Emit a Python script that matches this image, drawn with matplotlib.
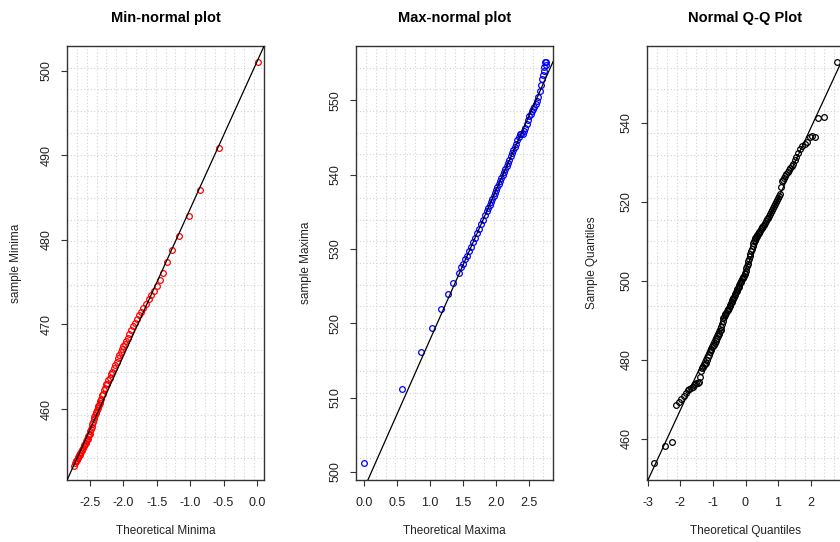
import numpy as np
import matplotlib
matplotlib.use("Agg")
import matplotlib.pyplot as plt

plt.rcParams['font.family'] = ['Liberation Sans', 'DejaVu Sans']
plt.rcParams['axes.unicode_minus'] = False

# --- Min-normal plot (sample minima vs theoretical minima)
min_x = [-2.74, -2.72, -2.71, -2.70, -2.69, -2.68, -2.67, -2.66, -2.65, -2.64,
         -2.63, -2.62, -2.61, -2.60, -2.59, -2.58, -2.57, -2.56, -2.55, -2.54,
         -2.53, -2.52, -2.51, -2.50, -2.49, -2.48, -2.47, -2.46, -2.45, -2.44,
         -2.43, -2.42, -2.41, -2.40, -2.39, -2.38, -2.37, -2.36, -2.35, -2.34,
         -2.33, -2.31, -2.30, -2.28, -2.27, -2.25, -2.24, -2.22, -2.20, -2.18,
         -2.16, -2.14, -2.12, -2.10, -2.08, -2.06, -2.04, -2.02, -2.00, -1.98,
         -1.96, -1.93, -1.91, -1.88, -1.85, -1.82, -1.79, -1.76, -1.73, -1.70,
         -1.66, -1.62, -1.58, -1.54, -1.50, -1.45, -1.40, -1.35, -1.27, -1.16,
         -1.02, -0.85, -0.57, 0.02]
min_y = [453.3, 453.6, 453.8, 453.9, 454.0, 454.2, 454.3, 454.5, 454.6, 454.8,
         454.9, 455.1, 455.2, 455.4, 455.6, 455.7, 455.9, 456.0, 456.2, 456.4,
         456.5, 456.8, 456.9, 457.1, 457.4, 457.6, 457.9, 458.2, 458.5, 458.8,
         459.1, 459.3, 459.5, 459.7, 459.9, 460.1, 460.3, 460.5, 460.7, 460.9,
         461.2, 461.6, 461.8, 462.3, 462.5, 462.9, 463.0, 463.4, 463.7, 464.1,
         464.4, 464.8, 465.2, 465.6, 466.0, 466.4, 466.7, 467.1, 467.4, 467.7,
         468.0, 468.4, 468.9, 469.4, 469.8, 470.2, 470.6, 471.1, 471.5, 471.9,
         472.4, 473.0, 473.5, 474.0, 474.5, 475.3, 476.1, 477.4, 478.8, 480.5,
         482.8, 485.9, 490.9, 501.0]
min_line = (501.1, 17.44)  # intercept, slope

# --- Max-normal plot (sample maxima vs theoretical maxima)
max_x = [0.00, 0.57, 0.86, 1.03, 1.17, 1.27, 1.35, 1.44, 1.47, 1.50,
         1.53, 1.56, 1.59, 1.62, 1.65, 1.68, 1.71, 1.74, 1.77, 1.80,
         1.83, 1.86, 1.88, 1.90, 1.92, 1.94, 1.96, 1.98, 2.00, 2.02,
         2.04, 2.06, 2.08, 2.10, 2.12, 2.14, 2.16, 2.18, 2.20, 2.22,
         2.24, 2.26, 2.28, 2.30, 2.32, 2.34, 2.36, 2.38, 2.40, 2.42,
         2.44, 2.46, 2.48, 2.50, 2.52, 2.54, 2.56, 2.58, 2.60, 2.62,
         2.64, 2.66, 2.68, 2.70, 2.71, 2.72, 2.73, 2.74, 2.75, 2.76]
max_y = [501.2, 511.1, 516.1, 519.4, 521.9, 523.9, 525.4, 526.8, 527.5, 528.0,
         528.6, 529.1, 529.7, 530.3, 530.9, 531.5, 532.1, 532.7, 533.3, 533.9,
         534.5, 535.1, 535.5, 535.9, 536.3, 536.7, 537.1, 537.5, 537.9, 538.3,
         538.7, 539.2, 539.6, 540.0, 540.4, 540.8, 541.2, 541.6, 542.0, 542.5,
         542.9, 543.3, 543.7, 544.1, 544.6, 545.0, 545.4, 545.5, 545.5, 545.9,
         546.3, 546.8, 547.3, 547.9, 548.2, 548.5, 548.8, 549.1, 549.5, 549.9,
         550.4, 551.2, 552.0, 552.9, 553.4, 553.9, 554.5, 555.1, 554.7, 555.2]
max_line = (497.7, 20.1)

# --- Normal Q-Q plot
qq_x = [-2.81, -2.47, -2.26, -2.14, -2.05, -1.97, -1.90, -1.84, -1.78, -1.73,
        -1.68, -1.63, -1.59, -1.55, -1.51, -1.47, -1.44, -1.40, -1.37, -1.34,
        -1.31, -1.28, -1.25, -1.22, -1.19, -1.16, -1.13, -1.10, -1.07, -1.05,
        -1.02, -1.00, -0.97, -0.95, -0.92, -0.90, -0.87, -0.85, -0.83, -0.80,
        -0.78, -0.76, -0.74, -0.72, -0.70, -0.68, -0.66, -0.64, -0.62, -0.60,
        -0.57, -0.55, -0.53, -0.51, -0.49, -0.47, -0.45, -0.43, -0.41, -0.39,
        -0.37, -0.35, -0.33, -0.31, -0.29, -0.27, -0.25, -0.23, -0.21, -0.19,
        -0.17, -0.15, -0.13, -0.11, -0.09, -0.07, -0.05, -0.03, -0.01, 0.01,
        0.03, 0.05, 0.07, 0.09, 0.11, 0.13, 0.15, 0.17, 0.19, 0.22,
        0.24, 0.26, 0.28, 0.30, 0.32, 0.34, 0.36, 0.39, 0.41, 0.43,
        0.45, 0.48, 0.50, 0.52, 0.55, 0.58, 0.61, 0.64, 0.67, 0.70,
        0.73, 0.76, 0.79, 0.82, 0.85, 0.88, 0.91, 0.94, 0.97, 1.00,
        1.03, 1.06, 1.09, 1.12, 1.15, 1.18, 1.22, 1.26, 1.30, 1.34,
        1.38, 1.42, 1.46, 1.51, 1.56, 1.62, 1.68, 1.75, 1.82, 1.90,
        1.98, 2.06, 2.14, 2.24, 2.40, 2.81]
qq_y = [453.8, 458.3, 459.3, 468.6, 469.4, 470.0, 470.8, 471.6, 472.4, 472.6,
        472.8, 473.2, 473.6, 474.0, 474.1, 474.2, 474.3, 475.8, 477.2, 477.9,
        478.3, 478.6, 479.0, 479.3, 480.0, 480.7, 481.3, 481.9, 482.4, 482.8,
        483.2, 483.6, 483.9, 484.4, 484.9, 485.2, 485.5, 486.0, 486.5, 486.9,
        487.3, 487.7, 488.4, 489.2, 489.9, 490.5, 491.0, 491.3, 491.6, 491.9,
        492.4, 492.7, 493.0, 493.2, 493.6, 494.0, 494.4, 494.7, 495.1, 495.4,
        495.7, 496.0, 496.4, 496.8, 497.2, 497.5, 497.9, 498.2, 498.5, 498.9,
        499.4, 499.8, 500.1, 500.4, 500.7, 501.0, 501.3, 501.7, 502.1, 502.6,
        503.2, 503.8, 504.4, 505.0, 505.6, 506.2, 506.9, 507.5, 508.2, 508.9,
        509.5, 510.0, 510.4, 510.8, 511.1, 511.4, 511.7, 512.0, 512.2, 512.4,
        512.7, 513.1, 513.4, 513.6, 513.9, 514.2, 514.6, 515.1, 515.6, 516.0,
        516.4, 516.9, 517.4, 518.0, 518.5, 518.9, 519.4, 520.0, 520.6, 521.1,
        521.5, 522.0, 523.8, 525.2, 525.6, 526.0, 526.5, 527.2, 527.6, 528.1,
        528.6, 529.1, 529.7, 530.6, 531.4, 532.3, 533.3, 534.2, 534.7, 535.2,
        536.5, 536.6, 536.5, 541.2, 541.6, 555.5]
qq_line = (503.0, 17.8)

panels = [
    dict(x=min_x, y=min_y, line=min_line, color='red', title='Min-normal plot',
         xlabel='Theoretical Minima', ylabel='sample Minima',
         xlim=(-2.84, 0.105), ylim=(451.6, 502.95),
         xticks=[-2.5, -2.0, -1.5, -1.0, -0.5, 0.0], yticks=[460, 470, 480, 490, 500],
         xfmt='{:.1f}', left=67, ylab_x=-0.226),
    dict(x=max_x, y=max_y, line=max_line, color='blue', title='Max-normal plot',
         xlabel='Theoretical Maxima', ylabel='sample Maxima',
         xlim=(-0.12, 2.86), ylim=(498.9, 557.3),
         xticks=[0.0, 0.5, 1.0, 1.5, 2.0, 2.5], yticks=[500, 510, 520, 530, 540, 550],
         xfmt='{:.1f}', left=356, ylab_x=-0.222),
    dict(x=qq_x, y=qq_y, line=qq_line, color='black', title='Normal Q-Q Plot',
         xlabel='Theoretical Quantiles', ylabel='Sample Quantiles',
         xlim=(-3.03, 3.03), ylim=(449.6, 559.5),
         xticks=[-3, -2, -1, 0, 1, 2, 3], yticks=[460, 480, 500, 520, 540],
         xfmt='{:.0f}', left=647, ylab_x=-0.248),
]

W, H = 840, 542
fig = plt.figure(figsize=(W / 100, H / 100), dpi=100)
fig.patch.set_facecolor('white')

for p in panels:
    ax = fig.add_axes([p['left'] / W, (H - 480) / H, 197 / W, 434 / H])
    ax.set_xlim(*p['xlim'])
    ax.set_ylim(*p['ylim'])

    # R style grid(20, 20)
    for gx in np.linspace(p['xlim'][0], p['xlim'][1], 21)[1:-1]:
        ax.axvline(gx, color='#d3d3d3', lw=0.8, ls=(0, (1, 2)), zorder=0)
    for gy in np.linspace(p['ylim'][0], p['ylim'][1], 21)[1:-1]:
        ax.axhline(gy, color='#d3d3d3', lw=0.8, ls=(0, (1, 2)), zorder=0)

    ax.plot(p['x'], p['y'], 'o', mfc='none', mec=p['color'], ms=4.1, mew=0.9, zorder=2)
    b, m = p['line']
    ax.axline((0, b), slope=m, color='black', lw=0.9, zorder=3)

    ax.set_xticks(p['xticks'])
    ax.set_xticklabels([p['xfmt'].format(t) for t in p['xticks']])
    ax.set_yticks(p['yticks'])
    ax.set_yticklabels([str(t) for t in p['yticks']], rotation=90, va='center')
    ax.tick_params(axis='both', length=4.3, width=0.8, color='#333333',
                   labelsize=9, labelcolor='#222222')
    ax.tick_params(axis='x', pad=8)
    ax.tick_params(axis='y', pad=6)
    for s in ax.spines.values():
        s.set_color('#333333')
        s.set_linewidth(1.0)

    ax.set_title(p['title'], fontsize=10.5, fontweight='bold', pad=17)
    ax.set_xlabel(p['xlabel'], fontsize=8.5, color='#222222')
    ax.set_ylabel(p['ylabel'], fontsize=8.5, color='#222222')
    ax.xaxis.set_label_coords(0.5, -0.104)
    ax.yaxis.set_label_coords(p['ylab_x'], 0.5)

fig.savefig('out.png', dpi=100)
